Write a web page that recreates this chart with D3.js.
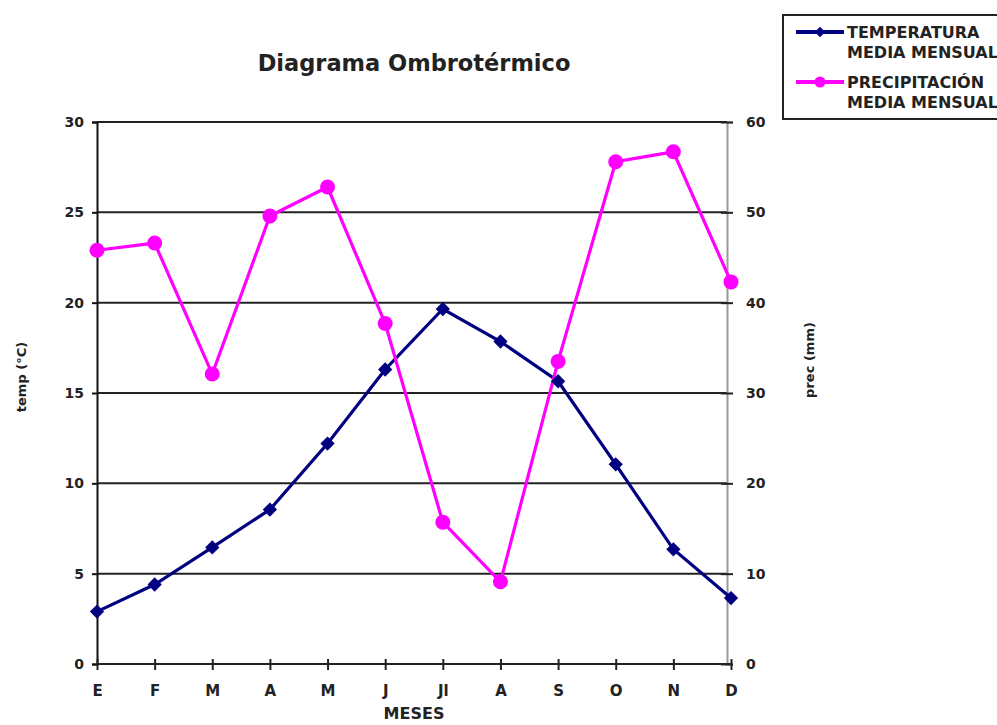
<!DOCTYPE html>
<html><head><meta charset="utf-8">
<script src="https://cdn.jsdelivr.net/npm/d3@7"></script>
<style>body{margin:0;background:#fff}svg{display:block}text{font-family:"DejaVu Sans",Arial,sans-serif;font-weight:bold}</style>
</head><body>
<svg id="c" width="997" height="725"></svg>
<script>
const months = ["E","F","M","A","M","J","Jl","A","S","O","N","D"];
const temperature = [2.9, 4.4, 6.45, 8.55, 12.2, 16.3, 19.65, 17.85, 15.65, 11.05, 6.35, 3.65];
const precipitation = [45.8, 46.6, 32.1, 49.6, 52.8, 37.7, 15.7, 9.1, 33.5, 55.6, 56.7, 42.3];
const tempTicks = [0,5,10,15,20,25,30];
const precTicks = [0,10,20,30,40,50,60];
const title = "Diagrama Ombrotérmico";
const legendLabels = [["TEMPERATURA","MEDIA MENSUAL"],["PRECIPITACIÓN","MEDIA MENSUAL"]];

const FONT = "DejaVu Sans, Arial, sans-serif";
const svg = d3.select("#c");
const L = 97, R = 731, RA = 727, T = 122, B = 664;
const x = d3.scalePoint().domain(d3.range(months.length)).range([L, R]);
const yT = d3.scaleLinear().domain([0,30]).range([B, T]);
const yP = d3.scaleLinear().domain([0,60]).range([B, T]);

// gridlines
svg.append("g").selectAll("line").data(tempTicks.filter(d=>d>0)).join("line")
  .attr("x1", L).attr("x2", RA).attr("y1", d=>yT(d)).attr("y2", d=>yT(d))
  .attr("stroke", "#222").attr("stroke-width", 2);

function styleText(g, size){
  g.selectAll("text").attr("font-size",size).attr("fill","#222").attr("font-family",FONT).attr("font-weight","bold");
}
// left axis
const gl = svg.append("g").attr("transform", `translate(${L},0)`)
  .call(d3.axisLeft(yT).tickValues(tempTicks).tickSize(5).tickPadding(8));
gl.select(".domain").attr("stroke","#111").attr("stroke-width",2);
gl.selectAll(".tick line").attr("stroke","#111").attr("stroke-width",2);
styleText(gl, 14);

// right axis
const gr = svg.append("g").attr("transform", `translate(${RA},0)`)
  .call(d3.axisRight(yP).tickValues(precTicks).tickSize(6).tickPadding(13));
gr.select(".domain").attr("stroke","#999").attr("stroke-width",2);
gr.selectAll(".tick line").attr("stroke","#222").attr("stroke-width",2).attr("x1",-6);
styleText(gr, 14);

// bottom axis
const gb = svg.append("g").attr("transform", `translate(0,${B})`)
  .call(d3.axisBottom(x).tickFormat(i=>months[i]).tickSize(6).tickPadding(15));
gb.select(".domain").attr("stroke","#222").attr("stroke-width",2).attr("d", `M${L},0H${R}`);
gb.selectAll(".tick line").attr("stroke","#222").attr("stroke-width",2).attr("y1",-5);
styleText(gb, 15);

// lines
const lineT = d3.line().x((d,i)=>x(i)).y(d=>yT(d));
const lineP = d3.line().x((d,i)=>x(i)).y(d=>yP(d));
svg.append("path").attr("d", lineT(temperature)).attr("fill","none").attr("stroke","#000080").attr("stroke-width",3.2);
svg.append("path").attr("d", lineP(precipitation)).attr("fill","none").attr("stroke","#FF00FF").attr("stroke-width",3.2);

const diamond = d3.symbol().type(d3.symbolDiamond2).size(130);
svg.append("g").selectAll("path").data(temperature).join("path")
  .attr("d", diamond).attr("transform",(d,i)=>`translate(${x(i)},${yT(d)})`).attr("fill","#000080");
svg.append("g").selectAll("circle").data(precipitation).join("circle")
  .attr("cx",(d,i)=>x(i)).attr("cy",d=>yP(d)).attr("r",7.5).attr("fill","#FF00FF");

// titles
svg.append("text").attr("x",414).attr("y",71).attr("text-anchor","middle").attr("font-size",22.5).attr("fill","#222").text(title);
svg.append("text").attr("x",414).attr("y",719).attr("text-anchor","middle").attr("font-size",16).attr("fill","#222").text("MESES");
svg.append("text").attr("transform","translate(26,377) rotate(-90)").attr("text-anchor","middle").attr("font-size",13).attr("fill","#222").text("temp (°C)");
svg.append("text").attr("transform","translate(814,360) rotate(-90)").attr("text-anchor","middle").attr("font-size",13).attr("fill","#222").text("prec (mm)");

// legend
const lg = svg.append("g");
lg.append("rect").attr("x",783).attr("y",15).attr("width",230).attr("height",104).attr("fill","#fff").attr("stroke","#222").attr("stroke-width",2);
const lcol = ["#000080","#FF00FF"];
[0,1].forEach(k=>{
  const yy = 32 + k*50;
  lg.append("line").attr("x1",796).attr("x2",844).attr("y1",yy).attr("y2",yy).attr("stroke",lcol[k]).attr("stroke-width",4);
  if(k===0) lg.append("path").attr("d", d3.symbol().type(d3.symbolDiamond2).size(70)).attr("transform",`translate(820,${yy})`).attr("fill",lcol[k]);
  else lg.append("circle").attr("cx",820).attr("cy",yy).attr("r",5.5).attr("fill",lcol[k]);
  legendLabels[k].forEach((t,j)=>{
    lg.append("text").attr("x",847).attr("y",yy+6+j*20).attr("font-size",16).attr("fill","#222").text(t);
  });
});
</script>
</body></html>
